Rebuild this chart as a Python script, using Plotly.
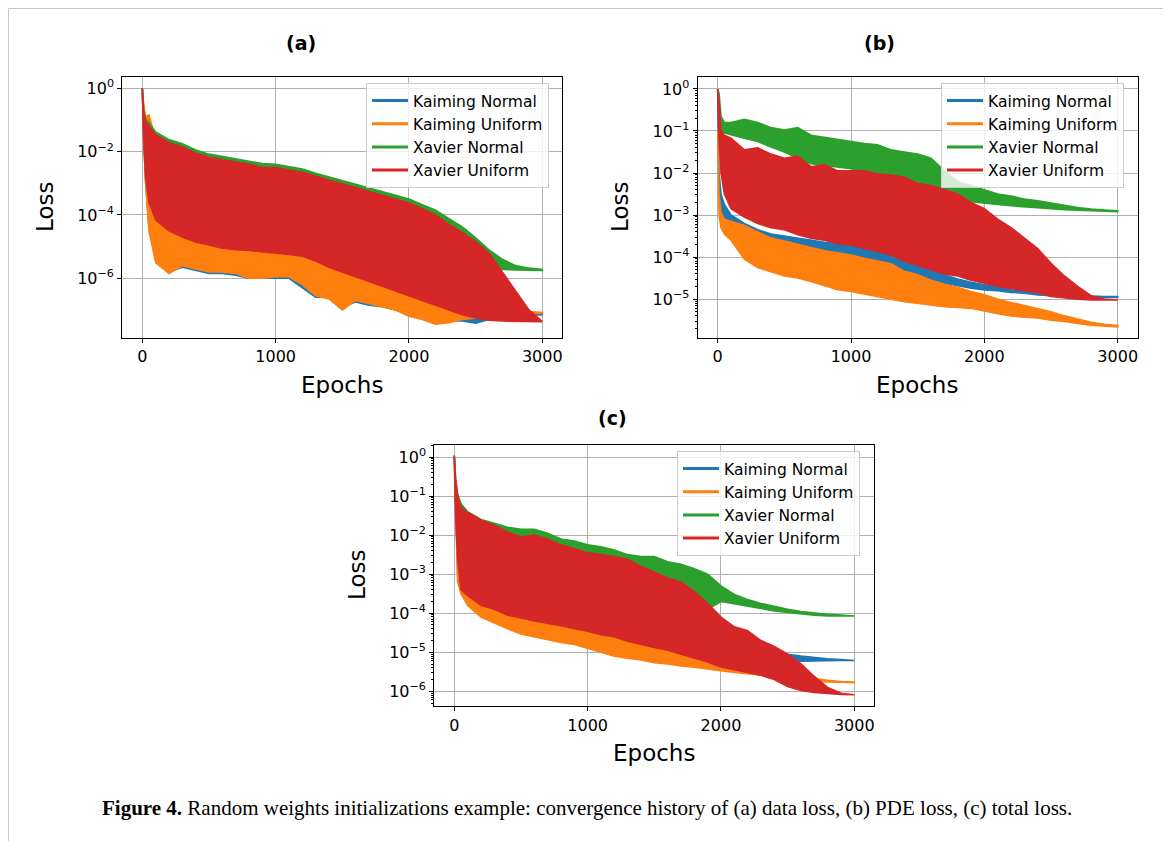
import plotly.graph_objects as go

# ---------------- data (log10 of loss) ----------------
EPOCHS = [0, 10, 25, 50, 100, 200, 300, 400, 500, 600, 700, 800, 900, 1000, 1100,
          1200, 1300, 1400, 1500, 1600, 1700, 1800, 1900, 2000, 2100, 2200, 2300,
          2400, 2500, 2600, 2700, 2800, 2900, 3000]

SERIES = ["Kaiming Normal", "Kaiming Uniform", "Xavier Normal", "Xavier Uniform"]
COLORS = ["#1f77b4", "#ff7f0e", "#2ca02c", "#d62728"]

# panel (a) data loss: upper / lower envelopes of the oscillating curves
A_BLU_HI = [0.0, -0.6, -1.1, -1.4, -1.8, -2.0, -2.1, -2.3, -2.4, -2.5, -2.55, -2.6, -2.7, -2.7, -2.8, -2.9, -3.0, -3.1, -3.25, -3.4, -3.5, -3.6, -3.7, -3.85, -4.0, -4.2, -4.5, -4.8, -5.0, -5.7, -6.4, -6.9, -7.1, -7.13]
A_BLU_LO = [0.0, -1.5, -3.0, -4.4, -5.4, -5.8, -5.65, -5.75, -5.85, -5.85, -5.9, -6.0, -6.0, -6.0, -6.0, -6.3, -6.6, -6.6, -6.9, -6.75, -6.85, -6.9, -7.0, -7.15, -7.2, -7.35, -7.35, -7.35, -7.42, -7.3, -7.25, -7.2, -7.17, -7.15]
A_ORG_HI = [0.0, -0.5, -0.9, -0.84, -1.6, -1.9, -2.0, -2.2, -2.3, -2.4, -2.45, -2.5, -2.6, -2.6, -2.7, -2.8, -2.9, -3.0, -3.15, -3.3, -3.4, -3.5, -3.6, -3.75, -3.9, -4.1, -4.4, -4.7, -5.0, -5.6, -6.4, -6.9, -7.05, -7.08]
A_ORG_LO = [0.0, -1.5, -3.0, -4.5, -5.5, -5.85, -5.6, -5.7, -5.8, -5.8, -5.85, -6.0, -6.0, -5.95, -5.95, -6.2, -6.55, -6.65, -7.0, -6.7, -6.8, -6.9, -7.0, -7.2, -7.3, -7.45, -7.4, -7.3, -7.25, -7.25, -7.2, -7.15, -7.12, -7.1]
A_GRN_HI = [0.0, -0.7, -0.98, -1.1, -1.38, -1.62, -1.75, -1.95, -2.08, -2.15, -2.22, -2.3, -2.38, -2.4, -2.48, -2.55, -2.68, -2.8, -2.9, -3.02, -3.15, -3.28, -3.38, -3.5, -3.68, -3.85, -4.12, -4.38, -4.72, -5.1, -5.4, -5.6, -5.68, -5.72]
A_GRN_LO = [0.0, -1.4, -2.6, -3.4, -3.9, -4.3, -4.5, -4.65, -4.75, -4.85, -4.9, -4.95, -5.0, -5.05, -5.1, -5.15, -5.3, -5.5, -5.65, -5.8, -5.95, -6.1, -6.25, -6.4, -6.55, -6.7, -6.5, -6.2, -5.9, -5.7, -5.72, -5.74, -5.75, -5.75]
A_RED_HI = [0.0, -0.75, -1.05, -1.18, -1.47, -1.72, -1.85, -2.05, -2.18, -2.26, -2.33, -2.4, -2.5, -2.5, -2.58, -2.65, -2.78, -2.9, -3.02, -3.15, -3.28, -3.4, -3.5, -3.62, -3.8, -4.0, -4.3, -4.55, -4.85, -5.2, -5.8, -6.4, -7.0, -7.37]
A_RED_LO = [0.0, -1.6, -2.8, -3.6, -4.15, -4.5, -4.7, -4.85, -4.95, -5.05, -5.1, -5.12, -5.15, -5.2, -5.25, -5.3, -5.45, -5.65, -5.8, -5.95, -6.1, -6.25, -6.4, -6.55, -6.7, -6.85, -7.0, -7.15, -7.25, -7.32, -7.35, -7.37, -7.37, -7.37]

# panel (b) PDE loss
B_BLU_HI = [0.0, -2.0, -2.5, -2.75, -3.0, -3.2, -3.35, -3.45, -3.5, -3.55, -3.6, -3.65, -3.68, -3.72, -3.8, -3.85, -3.9, -4.05, -4.15, -4.3, -4.42, -4.52, -4.6, -4.66, -4.72, -4.78, -4.82, -4.86, -4.88, -4.9, -4.92, -4.93, -4.94, -4.94]
B_BLU_LO = [0.0, -2.6, -3.0, -3.3, -3.55, -3.78, -3.9, -3.95, -4.0, -4.02, -4.05, -4.08, -4.1, -4.15, -4.2, -4.24, -4.3, -4.42, -4.5, -4.56, -4.62, -4.68, -4.74, -4.78, -4.8, -4.84, -4.86, -4.9, -4.92, -4.94, -4.95, -4.96, -4.96, -4.96]
B_ORG_HI = [-1.0, -2.5, -2.95, -3.1, -3.15, -3.25, -3.4, -3.55, -3.62, -3.7, -3.78, -3.85, -3.9, -3.95, -4.03, -4.1, -4.16, -4.34, -4.42, -4.55, -4.65, -4.72, -4.82, -4.9, -5.0, -5.08, -5.15, -5.22, -5.3, -5.4, -5.48, -5.55, -5.6, -5.63]
B_ORG_LO = [-1.0, -3.0, -3.3, -3.45, -3.6, -4.05, -4.25, -4.35, -4.45, -4.5, -4.58, -4.68, -4.78, -4.82, -4.88, -4.94, -5.0, -5.06, -5.1, -5.14, -5.18, -5.2, -5.22, -5.28, -5.35, -5.4, -5.43, -5.45, -5.5, -5.53, -5.58, -5.62, -5.64, -5.66]
B_GRN_HI = [0.0, -0.1, -0.65, -0.8, -0.8, -0.72, -0.8, -0.92, -0.98, -0.92, -1.1, -1.15, -1.2, -1.25, -1.3, -1.33, -1.45, -1.5, -1.55, -1.65, -1.95, -2.2, -2.3, -2.4, -2.5, -2.55, -2.62, -2.66, -2.72, -2.77, -2.82, -2.86, -2.88, -2.9]
B_GRN_LO = [0.0, -0.5, -1.0, -1.05, -1.1, -1.17, -1.25, -1.38, -1.5, -1.65, -1.78, -1.82, -1.86, -1.9, -1.97, -2.02, -2.15, -2.28, -2.4, -2.5, -2.57, -2.63, -2.68, -2.72, -2.75, -2.78, -2.8, -2.83, -2.85, -2.87, -2.89, -2.9, -2.91, -2.92]
B_RED_HI = [0.0, -0.3, -1.0, -1.1, -1.17, -1.45, -1.4, -1.55, -1.65, -1.6, -1.85, -1.8, -1.95, -1.95, -1.95, -2.02, -2.05, -2.1, -2.25, -2.3, -2.4, -2.5, -2.7, -2.85, -3.1, -3.3, -3.55, -3.8, -4.15, -4.45, -4.7, -4.92, -5.0, -5.02]
B_RED_LO = [0.0, -1.2, -2.0, -2.5, -2.85, -3.05, -3.2, -3.3, -3.35, -3.47, -3.55, -3.6, -3.68, -3.72, -3.8, -3.87, -3.95, -4.1, -4.2, -4.3, -4.4, -4.45, -4.55, -4.62, -4.7, -4.76, -4.8, -4.85, -4.94, -4.97, -5.0, -5.02, -5.02, -5.02]

# panel (c) total loss
C_BLU_HI = [0.0, -0.9, -1.7, -2.3, -2.6, -2.9, -3.1, -3.2, -3.3, -3.4, -3.5, -3.55, -3.6, -3.7, -3.75, -3.85, -3.9, -4.0, -4.1, -4.2, -4.3, -4.4, -4.5, -4.6, -4.7, -4.8, -4.9, -4.98, -5.05, -5.1, -5.14, -5.17, -5.19, -5.2]
C_BLU_LO = [0.0, -1.5, -3.0, -3.4, -3.7, -4.0, -4.15, -4.3, -4.42, -4.5, -4.58, -4.65, -4.7, -4.8, -4.9, -5.0, -5.05, -5.1, -5.15, -5.18, -5.2, -5.22, -5.24, -5.26, -5.27, -5.27, -5.26, -5.25, -5.24, -5.23, -5.22, -5.21, -5.21, -5.21]
C_ORG_HI = [0.0, -1.0, -2.0, -2.8, -3.0, -3.3, -3.45, -3.6, -3.7, -3.8, -3.85, -3.95, -4.0, -4.1, -4.15, -4.25, -4.35, -4.4, -4.45, -4.5, -4.6, -4.7, -4.8, -4.9, -5.0, -5.1, -5.22, -5.35, -5.5, -5.62, -5.68, -5.72, -5.75, -5.76]
C_ORG_LO = [0.0, -1.6, -3.2, -3.5, -3.8, -4.1, -4.25, -4.4, -4.53, -4.6, -4.68, -4.75, -4.8, -4.9, -5.0, -5.1, -5.15, -5.2, -5.27, -5.3, -5.35, -5.38, -5.42, -5.47, -5.52, -5.55, -5.59, -5.62, -5.66, -5.7, -5.73, -5.76, -5.77, -5.78]
C_GRN_HI = [0.04, -0.55, -0.95, -1.2, -1.4, -1.6, -1.7, -1.8, -1.85, -1.85, -1.95, -2.1, -2.15, -2.25, -2.3, -2.38, -2.5, -2.55, -2.55, -2.68, -2.75, -2.86, -3.0, -3.3, -3.52, -3.65, -3.75, -3.83, -3.9, -3.96, -4.0, -4.03, -4.05, -4.06]
C_GRN_LO = [0.04, -1.2, -2.3, -3.0, -3.3, -3.5, -3.6, -3.7, -3.8, -3.85, -3.9, -3.95, -4.0, -4.05, -4.1, -4.15, -4.2, -4.25, -4.3, -4.3, -4.25, -4.1, -3.9, -3.7, -3.75, -3.82, -3.88, -3.94, -3.98, -4.02, -4.05, -4.07, -4.07, -4.07]
C_RED_HI = [0.04, -0.6, -1.0, -1.3, -1.42, -1.62, -1.75, -1.92, -2.05, -2.0, -2.1, -2.25, -2.35, -2.45, -2.5, -2.55, -2.62, -2.8, -2.95, -3.1, -3.2, -3.45, -3.75, -4.1, -4.35, -4.45, -4.7, -4.85, -5.05, -5.3, -5.62, -5.9, -6.05, -6.09]
C_RED_LO = [0.04, -1.5, -2.6, -3.4, -3.55, -3.8, -3.9, -4.05, -4.12, -4.2, -4.26, -4.32, -4.4, -4.46, -4.55, -4.6, -4.72, -4.8, -4.88, -4.95, -5.05, -5.15, -5.25, -5.38, -5.45, -5.52, -5.59, -5.7, -5.88, -5.98, -6.03, -6.06, -6.08, -6.09]

X_TICKS = [0, 1000, 2000, 3000]
X_TICK_TEXT = ["0", "1000", "2000", "3000"]
A_YTICK_EXP = [0, -2, -4, -6]
B_YTICK_EXP = [0, -1, -2, -3, -4, -5]
C_YTICK_EXP = [0, -1, -2, -3, -4, -5, -6]
TITLES = ["(a)", "(b)", "(c)"]
CAPTION_BOLD = "Figure 4."
CAPTION = " Random weights initializations example: convergence history of (a) data loss, (b) PDE loss, (c) total loss."

# ---------------- layout helpers ----------------
# the page body has an 8px margin, so page pixel p maps to figure pixel p - 8
OFF = 8
W, H = 1171 - OFF, 841 - OFF
FONT = "DejaVu Sans"


def fx(p):
    return (p - OFF) / W


def fy(p):
    return 1 - (p - OFF) / H


panels = [
    dict(key="", xdom=(122.3, 562.3), ydom=(338.0, 76.7), yr=(-7.885, 0.366), yexp=A_YTICK_EXP, minor=False,
         bands=[(A_BLU_LO, A_BLU_HI), (A_ORG_LO, A_ORG_HI), (A_GRN_LO, A_GRN_HI), (A_RED_LO, A_RED_HI)],
         legend="legend", leg=(366, 83), title=(301, 43), xlab=(342, 385), ylab=(45, 207)),
    dict(key="2", xdom=(697.7, 1137.7), ydom=(338.0, 76.7), yr=(-5.926, 0.292), yexp=B_YTICK_EXP, minor=True,
         bands=[(B_BLU_LO, B_BLU_HI), (B_ORG_LO, B_ORG_HI), (B_GRN_LO, B_GRN_HI), (B_RED_LO, B_RED_HI)],
         legend="legend2", leg=(941, 83), title=(879, 43), xlab=(917, 385), ylab=(620, 207)),
    dict(key="3", xdom=(434.3, 874.3), ydom=(706.3, 444.7), yr=(-6.384, 0.315), yexp=C_YTICK_EXP, minor=True,
         bands=[(C_BLU_LO, C_BLU_HI), (C_ORG_LO, C_ORG_HI), (C_GRN_LO, C_GRN_HI), (C_RED_LO, C_RED_HI)],
         legend="legend3", leg=(677, 451), title=(612, 418), xlab=(654, 753), ylab=(357, 575)),
]

fig = go.Figure()
layout = dict(width=W, height=H, margin=dict(l=0, r=0, t=0, b=0, pad=0),
              paper_bgcolor="white", plot_bgcolor="white", showlegend=True,
              annotations=[], shapes=[])

minor_vals = [m * 10.0 ** e for e in range(-8, 1) for m in range(2, 10)]

for i, p in enumerate(panels):
    xa, ya = "x" + p["key"], "y" + p["key"]
    for (lo, hi), col in zip(p["bands"], COLORS):
        xs = EPOCHS + EPOCHS[::-1]
        ys = [10 ** v for v in hi] + [10 ** v for v in lo[::-1]]
        fig.add_trace(go.Scatter(x=xs, y=ys, mode="lines", fill="toself", fillcolor=col,
                                 line=dict(color=col, width=1.6), hoverinfo="skip",
                                 showlegend=False, xaxis=xa, yaxis=ya))
    for name, col in zip(SERIES, COLORS):
        fig.add_trace(go.Scatter(x=[None], y=[None], mode="lines", name=name,
                                 line=dict(color=col, width=3), xaxis=xa, yaxis=ya,
                                 legend=p["legend"]))

    axis_common = dict(showline=True, mirror=True, linecolor="black", linewidth=1.2,
                       ticks="outside", ticklen=4, tickwidth=1, tickcolor="black",
                       showgrid=True, gridcolor="#b0b0b0", gridwidth=1, zeroline=False,
                       tickfont=dict(family=FONT, size=16, color="black"))
    layout["xaxis" + p["key"]] = dict(axis_common, domain=[fx(p["xdom"][0]), fx(p["xdom"][1])],
                                      range=[-150, 3150], anchor=ya, tickmode="array",
                                      tickvals=X_TICKS, ticktext=X_TICK_TEXT)
    yax = dict(axis_common, type="log", domain=[fy(p["ydom"][0]), fy(p["ydom"][1])],
               range=list(p["yr"]), anchor=xa, tickmode="array",
               tickvals=[10.0 ** e for e in p["yexp"]],
               ticktext=["10<sup>%s</sup>" % (str(e).replace("-", "\u2212")) for e in p["yexp"]])
    if p["minor"]:
        yax["minor"] = dict(ticks="outside", ticklen=2, tickwidth=0.8, tickcolor="black",
                            showgrid=False, tickmode="array", tickvals=minor_vals)
    layout["yaxis" + p["key"]] = yax

    layout[p["legend"]] = dict(x=fx(p["leg"][0]), y=fy(p["leg"][1]), xanchor="left", yanchor="top",
                               bgcolor="rgba(255,255,255,0.8)", bordercolor="#cccccc", borderwidth=1,
                               font=dict(family=FONT, size=15.5, color="black"), tracegroupgap=0,
                               itemwidth=36)

    layout["annotations"] += [
        dict(text="<b>%s</b>" % TITLES[i], x=fx(p["title"][0]), y=fy(p["title"][1]), xref="paper", yref="paper",
             showarrow=False, xanchor="center", yanchor="middle", font=dict(family=FONT, size=19, color="black")),
        dict(text="Epochs", x=fx(p["xlab"][0]), y=fy(p["xlab"][1]), xref="paper", yref="paper",
             showarrow=False, xanchor="center", yanchor="middle", font=dict(family=FONT, size=23, color="black")),
        dict(text="Loss", x=fx(p["ylab"][0]), y=fy(p["ylab"][1]), xref="paper", yref="paper", textangle=-90,
             showarrow=False, xanchor="center", yanchor="middle", font=dict(family=FONT, size=23, color="black")),
    ]

layout["annotations"].append(
    dict(text="<b>%s</b>%s" % (CAPTION_BOLD, CAPTION), x=fx(587), y=fy(808), xref="paper", yref="paper",
         showarrow=False, xanchor="center", yanchor="middle",
         font=dict(family="Liberation Serif", size=21, color="black")))

border = "#c8c8c8"
top_y = 1 - 0.5 / H
layout["shapes"] = [
    dict(type="line", xref="paper", yref="paper", x0=0.5 / W, x1=fx(1165), y0=top_y, y1=top_y, line=dict(color=border, width=1)),
    dict(type="line", xref="paper", yref="paper", x0=0.5 / W, x1=0.5 / W, y0=top_y, y1=0, line=dict(color=border, width=1)),
    dict(type="line", xref="paper", yref="paper", x0=fx(1165), x1=fx(1165), y0=top_y, y1=0, line=dict(color=border, width=1)),
]

fig.update_layout(**layout)
fig.write_html("out.html")
